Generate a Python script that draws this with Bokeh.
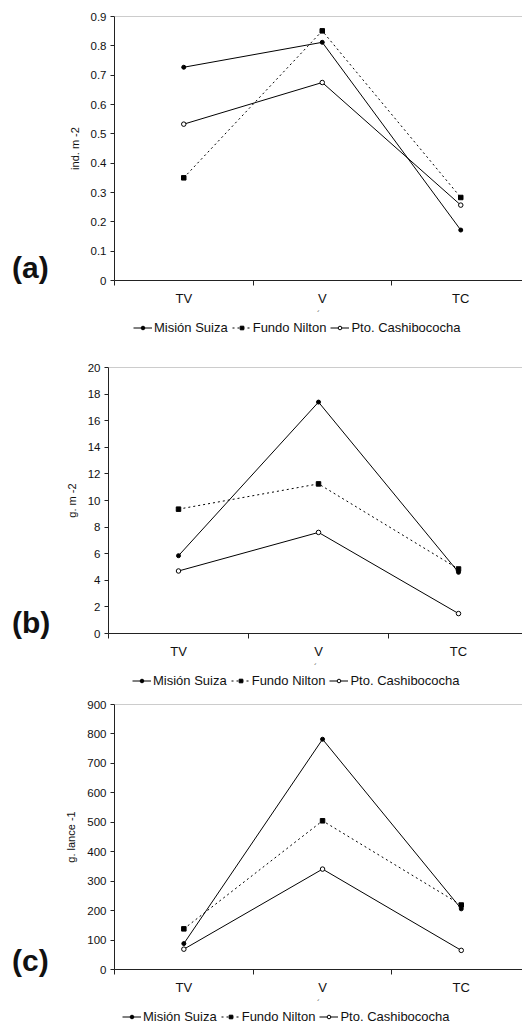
from bokeh.plotting import figure
from bokeh.layouts import column, row
from bokeh.models import FixedTicker, Range1d, Legend, LegendItem, Span, Div
from bokeh.embed import file_html
from bokeh.resources import INLINE

# ---------------- data ----------------
categories = ["TV", "V", "TC"]
series_names = ["Misión Suiza", "Fundo Nilton", "Pto. Cashibococha"]

a_mision = [0.727, 0.812, 0.172]
a_fundo = [0.350, 0.851, 0.283]
a_pto = [0.533, 0.675, 0.257]

b_mision = [5.85, 17.4, 4.6]
b_fundo = [9.35, 11.25, 4.85]
b_pto = [4.7, 7.6, 1.5]

c_mision = [88, 782, 206]
c_fundo = [138, 505, 219]
c_pto = [69, 341, 65]

a_ticks = [0, 0.1, 0.2, 0.3, 0.4, 0.5, 0.6, 0.7, 0.8, 0.9]
a_tick_labels = ["0", "0.1", "0.2", "0.3", "0.4", "0.5", "0.6", "0.7", "0.8", "0.9"]
b_ticks = [0, 2, 4, 6, 8, 10, 12, 14, 16, 18, 20]
c_ticks = [0, 100, 200, 300, 400, 500, 600, 700, 800, 900]

FONT = "Liberation Sans"
TAG_W = 60
LEG_H = 14
NAN = float("nan")
xpos = [i + 0.5 for i in range(len(categories))]
bounds = [i for i in range(len(categories) + 1)]

STYLES = [
    dict(line_dash="solid", marker="circle", size=4, fill="black"),
    dict(line_dash="2 3", marker="square", size=4.5, fill="black"),
    dict(line_dash="solid", marker="circle", size=4.5, fill="white"),
]


def tag_div(height, tag=None, pad_top=0):
    return Div(text=tag or "", width=TAG_W, height=height, margin=0,
               styles={"font-family": "'Liberation Sans', Arial, sans-serif",
                       "font-size": "30px", "font-weight": "bold", "line-height": "30px",
                       "color": "#111111", "padding-top": f"{pad_top}px",
                       "padding-left": "12px", "box-sizing": "border-box",
                       "overflow": "visible"})


def legend_fig(frame_left, leg_x):
    f = figure(width=522 - TAG_W, height=LEG_H, output_backend="svg", toolbar_location=None,
               min_border_left=frame_left - TAG_W, min_border_right=0, min_border_top=0,
               min_border_bottom=0, x_range=Range1d(0, 1), y_range=Range1d(0, 1))
    f.axis.visible = False
    f.grid.visible = False
    f.outline_line_color = None
    items = []
    for name, st in zip(series_names, STYLES):
        lr = f.line(x=[NAN], y=[NAN], line_color="black", line_width=1, line_dash=st["line_dash"])
        sr = f.scatter(x=[NAN], y=[NAN], marker=st["marker"], size=st["size"],
                       fill_color=st["fill"], line_color="black")
        items.append(LegendItem(label=name, renderers=[lr, sr]))
    legend = Legend(items=items, orientation="horizontal", location=(leg_x, 0),
                    border_line_color=None, background_fill_alpha=0,
                    padding=0, margin=0, spacing=4, glyph_width=19, glyph_height=9,
                    label_height=13, label_standoff=2,
                    label_text_font=FONT, label_text_font_size="13px",
                    label_text_color="#111111")
    f.add_layout(legend)
    return f


def panel(ymax, ticks, tick_labels, ylabel, values, height, b_top, frame_left, x_end):
    p = figure(width=522 - TAG_W, height=height, output_backend="svg", toolbar_location=None,
               min_border_left=frame_left - TAG_W, min_border_right=0, min_border_top=b_top,
               min_border_bottom=41,
               x_range=Range1d(0, x_end), y_range=Range1d(0, ymax))
    p.outline_line_color = None
    p.grid.visible = False
    p.background_fill_color = "white"

    # y axis
    p.yaxis.ticker = FixedTicker(ticks=ticks)
    p.yaxis.major_label_overrides = {t: l for t, l in zip(ticks, tick_labels)}
    p.yaxis.major_tick_in = 0
    p.yaxis.major_tick_out = 4
    p.yaxis.minor_tick_line_color = None
    p.yaxis.major_label_standoff = 4
    p.yaxis.major_label_text_font = FONT
    p.yaxis.major_label_text_font_size = "11.5px"
    p.yaxis.major_label_text_color = "#111111"
    p.yaxis.axis_label = ylabel
    p.yaxis.axis_label_text_font = FONT
    p.yaxis.axis_label_text_font_size = "11px"
    p.yaxis.axis_label_text_font_style = "normal"
    p.yaxis.axis_label_text_color = "#111111"
    p.yaxis.axis_label_standoff = 7
    p.yaxis.axis_line_color = "#222222"
    p.yaxis.major_tick_line_color = "#222222"

    # x axis: labels at category centres, ticks at category boundaries
    p.xaxis.ticker = FixedTicker(ticks=xpos, minor_ticks=bounds)
    p.xaxis.major_label_overrides = {x: c for x, c in zip(xpos, categories)}
    p.xaxis.major_tick_line_color = None
    p.xaxis.major_tick_out = 5
    p.xaxis.major_tick_in = 0
    p.xaxis.minor_tick_out = 5
    p.xaxis.minor_tick_in = 0
    p.xaxis.minor_tick_line_color = "#222222"
    p.xaxis.axis_line_color = "#222222"
    p.xaxis.major_label_standoff = 5
    p.xaxis.major_label_text_font = FONT
    p.xaxis.major_label_text_font_size = "13px"
    p.xaxis.major_label_text_color = "#111111"
    p.xaxis.axis_label = "´"
    p.xaxis.axis_label_text_font = FONT
    p.xaxis.axis_label_text_font_size = "9px"
    p.xaxis.axis_label_text_font_style = "normal"
    p.xaxis.axis_label_text_color = "#555555"
    p.xaxis.axis_label_standoff = 0

    p.add_layout(Span(location=ymax, dimension="width", line_color="#9a9a9a", line_width=1))

    for vals, st in zip(values, STYLES):
        p.line(xpos, vals, line_color="black", line_width=1, line_dash=st["line_dash"])
        p.scatter(xpos, vals, marker=st["marker"], size=st["size"],
                  fill_color=st["fill"], line_color="black")
    return p


# panel heights: a 0-321 (+legend 14), b 335-674 (+14), c 688-1010 (+14)
pa = panel(0.9, a_ticks, a_tick_labels, "ind. m -2", [a_mision, a_fundo, a_pto],
           321, 16, 114, (522 - 114) / 138.5)
pb = panel(20, b_ticks, [str(t) for t in b_ticks], "g. m -2", [b_mision, b_fundo, b_pto],
           339, 32, 108, (522 - 108) / 140.0)
pc = panel(900, c_ticks, [str(t) for t in c_ticks], "g. lance -1", [c_mision, c_fundo, c_pto],
           322, 16, 114, (522 - 114) / 138.7)

ta = tag_div(321, "(a)", 268 - 15)
tb = tag_div(339, "(b)", 623 - 335 - 15)
tc = tag_div(322, "(c)", 961 - 688 - 15)

la = legend_fig(114, 19)
lb = legend_fig(108, 24)
lc = legend_fig(114, 8)

layout = column(
    row(ta, pa, spacing=0), row(tag_div(LEG_H), la, spacing=0),
    row(tb, pb, spacing=0), row(tag_div(LEG_H), lb, spacing=0),
    row(tc, pc, spacing=0), row(tag_div(LEG_H), lc, spacing=0),
    spacing=0)
open("out.html", "w").write(file_html(layout, INLINE))
